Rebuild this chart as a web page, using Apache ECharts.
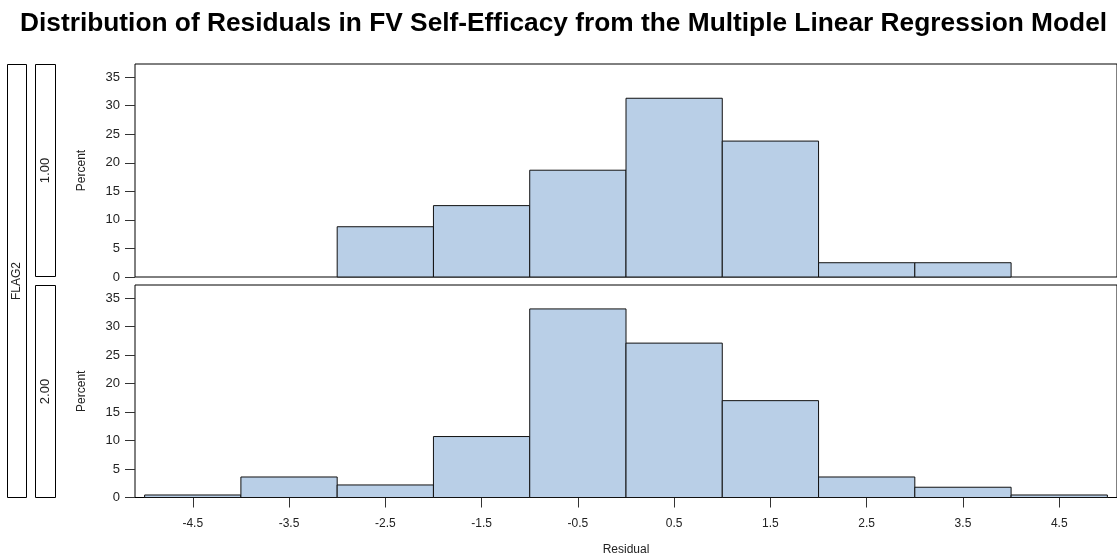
<!DOCTYPE html>
<html>
<head>
<meta charset="utf-8">
<script src="https://cdn.jsdelivr.net/npm/echarts@6/dist/echarts.min.js"></script>
<style>
  html, body { margin: 0; padding: 0; background: #fff; }
  #chart { width: 1117px; height: 560px; }
</style>
</head>
<body>
<div id="chart"></div>
<script>
// Histogram bin edges (residual units) and percent of cases per bin
const binEdges = [-5, -4, -3, -2, -1, 0, 1, 2, 3, 4, 5];
const flag1Percent = [0, 0, 8.8, 12.5, 18.7, 31.3, 23.8, 2.5, 2.5, 0];
const flag2Percent = [0.44, 3.6, 2.2, 10.7, 33.1, 27.1, 17.0, 3.6, 1.8, 0.44];
const panelLabels = ['1.00', '2.00'];
const xTickValues = [-4.5, -3.5, -2.5, -1.5, -0.5, 0.5, 1.5, 2.5, 3.5, 4.5];
const yTickValues = [0, 5, 10, 15, 20, 25, 30, 35];

const FONT = 'Liberation Sans, Arial, Helvetica, sans-serif';
const FILL = '#B9CFE7';

function binRows(values) {
  return values.map((v, i) => [binEdges[i], binEdges[i + 1], v]);
}

function histItem(params, api) {
  const lo = api.value(0), hi = api.value(1), v = api.value(2);
  if (!v) return null;
  const p0 = api.coord([lo, 0]);
  const p1 = api.coord([hi, v]);
  return {
    type: 'rect',
    shape: { x: p0[0], y: p1[1], width: p1[0] - p0[0], height: p0[1] - p1[1] },
    style: { fill: FILL, stroke: '#111', lineWidth: 1 }
  };
}

const gridBox = { left: 135, width: 985, show: true, borderColor: '#000', borderWidth: 1, backgroundColor: 'transparent' };

function yAxisFor(idx) {
  return {
    type: 'value', gridIndex: idx, min: 0, max: 37.3, position: 'left',
    name: 'Percent', nameLocation: 'middle', nameGap: 47,
    nameTextStyle: { fontFamily: FONT, fontSize: 12, color: '#222' },
    axisLine: { show: false, onZero: false },
    splitLine: { show: false },
    axisTick: { show: true, inside: false, length: 10, customValues: yTickValues, lineStyle: { color: '#333' } },
    axisLabel: { customValues: yTickValues, margin: 15, fontFamily: FONT, fontSize: 13, color: '#222' }
  };
}

function xAxisFor(idx, shown) {
  return {
    type: 'value', gridIndex: idx, min: -5.1, max: 5.1, position: 'bottom',
    name: shown ? 'Residual' : '', nameLocation: 'middle', nameGap: 46,
    nameTextStyle: { fontFamily: FONT, fontSize: 12, color: '#222' },
    axisLine: { show: false, onZero: false },
    splitLine: { show: false },
    axisTick: { show: shown, length: 10, customValues: xTickValues, lineStyle: { color: '#333' } },
    axisLabel: { show: shown, customValues: xTickValues, margin: 20, fontFamily: FONT, fontSize: 12, color: '#222',
                 formatter: v => v.toFixed(1) }
  };
}

const stripStyle = { fill: '#fff', stroke: '#000', lineWidth: 1 };
const stripGraphics = [
  { type: 'rect', shape: { x: 7.5, y: 64.5, width: 19, height: 433 }, style: stripStyle },
  { type: 'text', x: 17, y: 281, rotation: Math.PI / 2,
    style: { text: 'FLAG2', font: '12px ' + FONT, fill: '#222', align: 'center', verticalAlign: 'middle' } },
  { type: 'rect', shape: { x: 35.5, y: 64.5, width: 20, height: 212 }, style: stripStyle },
  { type: 'text', x: 45, y: 170.5, rotation: Math.PI / 2,
    style: { text: panelLabels[0], font: '13px ' + FONT, fill: '#222', align: 'center', verticalAlign: 'middle' } },
  { type: 'rect', shape: { x: 35.5, y: 285.5, width: 20, height: 212 }, style: stripStyle },
  { type: 'text', x: 45, y: 391.5, rotation: Math.PI / 2,
    style: { text: panelLabels[1], font: '13px ' + FONT, fill: '#222', align: 'center', verticalAlign: 'middle' } }
];

const chart = echarts.init(document.getElementById('chart'), null, { renderer: 'canvas' });
chart.setOption({
  animation: false,
  backgroundColor: '#fff',
  title: {
    text: 'Distribution of Residuals in FV Self-Efficacy from the Multiple Linear Regression Model',
    left: 15, top: 6,
    textStyle: { fontFamily: FONT, fontSize: 26.3, fontWeight: 'bold', color: '#000' }
  },
  grid: [
    Object.assign({ top: 64, height: 213 }, gridBox),
    Object.assign({ top: 285, height: 212.5 }, gridBox)
  ],
  xAxis: [xAxisFor(0, false), xAxisFor(1, true)],
  yAxis: [yAxisFor(0), yAxisFor(1)],
  series: [
    { type: 'custom', xAxisIndex: 0, yAxisIndex: 0, renderItem: histItem,
      encode: { x: [0, 1], y: 2 }, data: binRows(flag1Percent) },
    { type: 'custom', xAxisIndex: 1, yAxisIndex: 1, renderItem: histItem,
      encode: { x: [0, 1], y: 2 }, data: binRows(flag2Percent) }
  ],
  graphic: stripGraphics
});
</script>
</body>
</html>
